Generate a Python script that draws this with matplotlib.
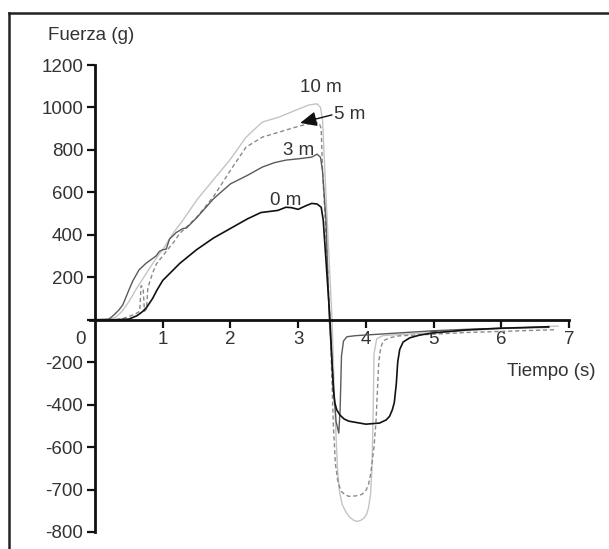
"""Fuerza vs tiempo para cuatro alturas (0, 3, 5 y 10 m)."""
import matplotlib
matplotlib.use('Agg')
import matplotlib.pyplot as plt
from matplotlib import font_manager
from matplotlib.lines import Line2D

# ---- datos (eje y en escala uniforme de la figura) ----
t_0m = [0, 0.3, 0.5, 0.62, 0.7, 0.76, 0.85, 0.91, 1.0, 1.25, 1.5, 1.75, 2.0, 2.25,
        2.45, 2.7, 2.82, 2.9, 3.0, 3.1, 3.2, 3.28, 3.34, 3.37, 3.47, 3.5, 3.52, 3.54,
        3.57, 3.62, 3.68, 3.75, 4.0, 4.2, 4.3, 4.35, 4.39, 4.42, 4.45, 4.47, 4.5, 4.55,
        4.65, 4.8, 5.0, 5.5, 6.0, 6.7]
f_0m = [0, 0, 3, 19, 38, 57, 100, 137, 185, 265, 330, 385, 430, 475,
        505, 515, 530, 528, 520, 535, 548, 545, 530, 470, 0, -200, -330, -390,
        -425, -450, -468, -478, -492, -487, -472, -455, -425, -390, -300, -200, -140, -105,
        -85, -72, -62, -48, -40, -33]

t_3m = [0, 0.2, 0.27, 0.35, 0.41, 0.5, 0.56, 0.65, 0.75, 0.81, 0.9, 0.95, 1.0, 1.05,
        1.1, 1.2, 1.3, 1.35, 1.5, 1.75, 2.0, 2.25, 2.47, 2.65, 2.82, 3.0, 3.2, 3.28,
        3.33, 3.36, 3.41, 3.46, 3.52, 3.56, 3.6, 3.62, 3.64, 3.67, 3.72, 3.85, 4.0,
        4.5, 5.0, 5.5, 6.0, 6.7]
f_3m = [0, 2, 20, 45, 70, 140, 184, 235, 265, 279, 300, 322, 330, 332,
        380, 411, 430, 432, 480, 570, 640, 680, 719, 740, 752, 758, 766, 780,
        765, 700, 468, 0, -300, -480, -534, -420, -170, -100, -80, -75, -72,
        -62, -52, -45, -40, -36]

t_5m = [0, 0.3, 0.4, 0.5, 0.6, 0.66, 0.68, 0.71, 0.73, 0.76, 0.78, 0.85, 0.91, 1.0,
        1.06, 1.15, 1.25, 1.5, 1.75, 2.0, 2.23, 2.47, 2.72, 2.97, 3.2, 3.31, 3.34,
        3.36, 3.4, 3.47, 3.52, 3.55, 3.59, 3.64, 3.7, 3.75, 3.85, 3.94, 4.0, 4.04,
        4.07, 4.12, 4.15, 4.19, 4.22, 4.26, 4.35, 4.49, 5.0, 5.5, 6.0, 6.8]
f_5m = [0, 0, 5, 15, 28, 40, 160, 150, 40, 50, 150, 220, 265, 300,
        326, 360, 406, 482, 580, 704, 813, 860, 884, 908, 927, 927, 900,
        700, 470, 0, -500, -680, -770, -810, -826, -832, -830, -823, -805, -775,
        -728, -600, -477, -200, -130, -99, -85, -76, -68, -60, -55, -47]

t_10m = [0, 0.2, 0.3, 0.4, 0.51, 0.6, 0.66, 0.8, 0.91, 1.0, 1.15, 1.3, 1.5, 1.75,
         1.99, 2.23, 2.47, 2.72, 2.97, 3.16, 3.28, 3.33, 3.36, 3.4, 3.5, 3.54, 3.58,
         3.61, 3.65, 3.7, 3.76, 3.82, 3.87, 3.92, 3.97, 4.01, 4.04, 4.07, 4.09, 4.11,
         4.12, 4.16, 4.25, 4.49, 5.0, 5.5, 6.0, 6.84]
f_10m = [0, 2, 10, 40, 90, 140, 170, 240, 293, 330, 406, 470, 563, 660,
         752, 860, 931, 955, 988, 1012, 1017, 1000, 940, 660, 0, -400, -700,
         -810, -870, -903, -930, -945, -950, -946, -935, -917, -885, -820, -700, -400,
         -161, -90, -75, -70, -60, -50, -42, -30]

y_ticks = [1200, 1000, 800, 600, 400, 200, 0, -200, -400, -600, -800, -1000]
y_tick_labels = ['1200', '1000', '800', '600', '400', '200', '', '-200', '-400',
                 '-600', '-700', '-800']
x_ticks = [1, 2, 3, 4, 5, 6, 7]

names = {f.name for f in font_manager.fontManager.ttflist}
FONT = 'Liberation Sans Narrow' if 'Liberation Sans Narrow' in names else 'Liberation Sans'
plt.rcParams['font.family'] = [FONT, 'DejaVu Sans']
TXT = '#333333'
FS = 13.5

W, H = 609, 549
fig = plt.figure(figsize=(W / 100, H / 100), dpi=100)
ax = fig.add_axes([90.3 / W, 17 / H, 478.7 / W, 467 / H])

ax.plot(t_10m, f_10m, color='#c4c4c4', lw=1.0)
ax.plot(t_5m, f_5m, color='#8a8a8a', lw=1.0, ls=(0, (3, 2)))
ax.plot(t_3m, f_3m, color='#5a5a5a', lw=1.0)
ax.plot(t_0m, f_0m, color='#111111', lw=1.2)

ax.set_xlim(-0.07, 7.0)
ax.set_ylim(-1000, 1200)
for side in ('top', 'right'):
    ax.spines[side].set_visible(False)
ax.spines['left'].set_position(('data', 0))
ax.spines['bottom'].set_position(('data', 0))
for side in ('left', 'bottom'):
    ax.spines[side].set_linewidth(2.0)
    ax.spines[side].set_color('#111111')

ax.set_xticks(x_ticks)
ax.set_xticklabels([str(v) for v in x_ticks])
ax.set_yticks(y_ticks)
ax.set_yticklabels(y_tick_labels)
ax.tick_params(axis='x', direction='out', length=6, width=1.6, color='#111111',
               pad=2, labelsize=FS, labelcolor=TXT)
ax.tick_params(axis='y', direction='out', length=5.5, width=1.6, color='#111111',
               pad=3, labelsize=FS, labelcolor=TXT)

# etiqueta "0" desplazada hacia abajo, como en el original
fig.text(80 / W, 1 - 340 / H, '0', ha='center', va='center', fontsize=FS, color=TXT)
fig.text(91.5 / W, 1 - 35 / H, 'Fuerza (g)', ha='center', va='center', fontsize=FS, color=TXT)
fig.text(551 / W, 1 - 372 / H, 'Tiempo (s)', ha='center', va='center', fontsize=FS, color=TXT)

# rotulos de cada curva
ax.text(3.34, 1092, '10 m', ha='center', va='center', fontsize=FS, color=TXT)
ax.text(3.53, 965, '5 m', ha='left', va='center', fontsize=FS, color=TXT)
ax.text(3.01, 799, '3 m', ha='center', va='center', fontsize=FS, color=TXT)
ax.text(2.82, 563, '0 m', ha='center', va='center', fontsize=FS, color=TXT)
ax.annotate('', xy=(3.03, 927), xytext=(3.5, 965),
            arrowprops=dict(arrowstyle='-|>,head_length=1.0,head_width=0.45',
                            color='#111111', lw=1.0, shrinkA=0, shrinkB=0))

# marco parcial de la figura (arriba e izquierda)
fig.add_artist(Line2D([9 / W, 1.0], [1 - 13 / H, 1 - 13 / H], color='#222222', lw=1.8))
fig.add_artist(Line2D([9 / W, 9 / W], [0, 1 - 13 / H], color='#222222', lw=1.8))

fig.savefig('out.png', dpi=100)
plt.close(fig)
